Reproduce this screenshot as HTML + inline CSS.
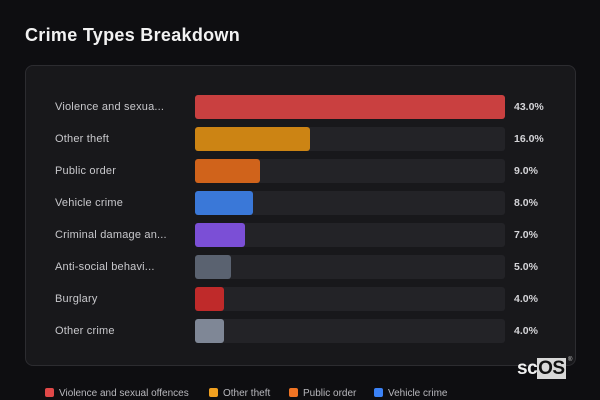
<!DOCTYPE html><html><head><style>
body{margin:0;width:600px;height:400px;background:#0e0e11;font-family:"Liberation Sans",sans-serif;position:relative;overflow:hidden}
h1{position:absolute;left:25px;top:25px;margin:0;font-size:18px;font-weight:bold;color:#f2f2f2;letter-spacing:0.3px}
.card{position:absolute;left:25px;top:65px;width:549px;height:299px;background:#18181b;border:1px solid #2c2c30;border-radius:8px}
.row{position:absolute;left:0;height:24px;width:600px}
.lab{position:absolute;left:55px;top:6px;font-size:11px;color:#c8c8cc;letter-spacing:0.2px}
.tr{position:absolute;left:195px;top:0;width:310px;height:24px;background:#232327;border-radius:3px}
.b{position:absolute;left:195px;top:0;height:24px;border-radius:3px}
.v{position:absolute;left:514px;top:6px;font-size:10.5px;font-weight:bold;color:#d4d4d8}
.lg{position:absolute;top:388px;font-size:10px;color:#b8b8bd;white-space:nowrap}
.lg i{display:inline-block;width:9px;height:9px;border-radius:2px;margin-right:5px;vertical-align:-1px}
</style></head><body>
<h1>Crime Types Breakdown</h1>
<div class="card"></div>
<div class="row" style="top:95px"><span class="lab">Violence and sexua...</span><div class="tr"></div><div class="b" style="width:310px;background:#c94040"></div><span class="v">43.0%</span></div>
<div class="row" style="top:127px"><span class="lab">Other theft</span><div class="tr"></div><div class="b" style="width:115px;background:#cc8414"></div><span class="v">16.0%</span></div>
<div class="row" style="top:159px"><span class="lab">Public order</span><div class="tr"></div><div class="b" style="width:65px;background:#d0631b"></div><span class="v">9.0%</span></div>
<div class="row" style="top:191px"><span class="lab">Vehicle crime</span><div class="tr"></div><div class="b" style="width:58px;background:#3a78d8"></div><span class="v">8.0%</span></div>
<div class="row" style="top:223px"><span class="lab">Criminal damage an...</span><div class="tr"></div><div class="b" style="width:50px;background:#7b4fd6"></div><span class="v">7.0%</span></div>
<div class="row" style="top:255px"><span class="lab">Anti-social behavi...</span><div class="tr"></div><div class="b" style="width:36px;background:#5a6270"></div><span class="v">5.0%</span></div>
<div class="row" style="top:287px"><span class="lab">Burglary</span><div class="tr"></div><div class="b" style="width:29px;background:#bf2a2a"></div><span class="v">4.0%</span></div>
<div class="row" style="top:319px"><span class="lab">Other crime</span><div class="tr"></div><div class="b" style="width:29px;background:#7f8796"></div><span class="v">4.0%</span></div>
<div style="position:absolute;left:517px;top:358px;font-size:19px;font-weight:bold;color:#f0f0f0;letter-spacing:-0.5px">sc<span style="background:#d8d8d8;color:#111;padding:0 1px">OS</span></div>
<div style="position:absolute;left:568px;top:357px;font-size:6px;color:#ccc">®</div>
<div class="lg" style="left:45px"><i style="background:#e04848"></i>Violence and sexual offences</div>
<div class="lg" style="left:209px"><i style="background:#f0a020"></i>Other theft</div>
<div class="lg" style="left:289px"><i style="background:#f07424"></i>Public order</div>
<div class="lg" style="left:374px"><i style="background:#3b82f6"></i>Vehicle crime</div>
</body></html>
